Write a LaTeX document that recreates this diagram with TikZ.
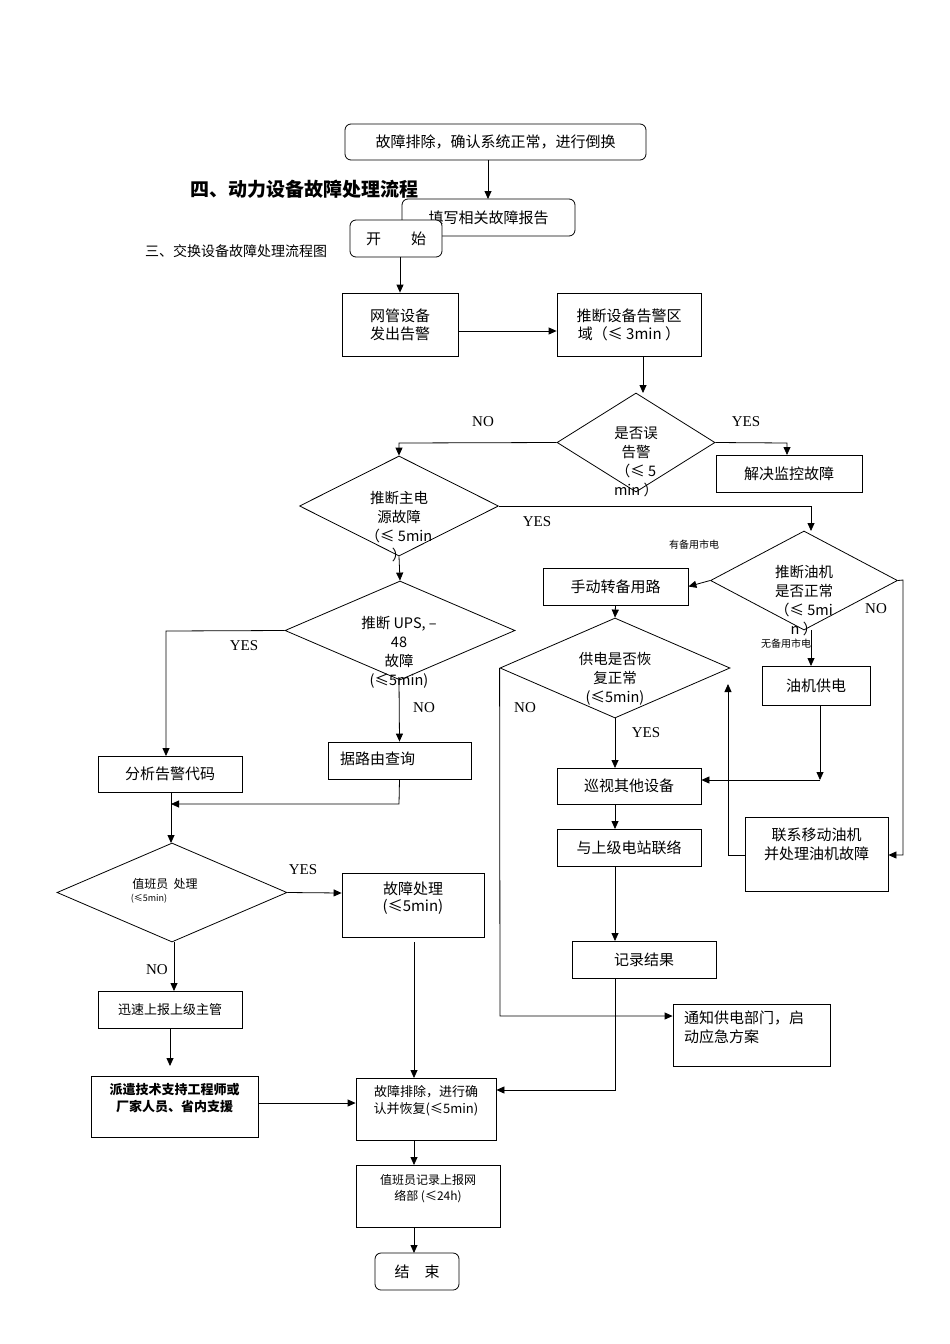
\documentclass[tikz,border=0pt]{standalone}
\usepackage{fontspec}
\setmainfont{Liberation Serif}
\newfontfamily\cjk{Noto Sans CJK SC}
\usetikzlibrary{shapes.geometric,arrows.meta}
\begin{document}
\begin{tikzpicture}[x=1pt,y=-1pt,
  box/.style={draw,thick,minimum width=#1,inner sep=0pt,align=center,font=\cjk\fontsize{15}{18}\selectfont},
  rbox/.style={box=#1,rounded corners=6pt},
  dia/.style={draw,thick,diamond,inner sep=0pt},
  dtxt/.style={align=center,font=\cjk\fontsize{14.5}{19}\selectfont,inner sep=0pt},
  lab/.style={font=\fontsize{15}{18}\selectfont,inner sep=0pt},
  small/.style={font=\cjk\fontsize{10}{12}\selectfont,inner sep=0pt},
  ar/.style={thick,-{Triangle[length=8pt,width=7pt]}},
  ln/.style={thick}]
\fill[white] (0,0) rectangle (950,1344);
\useasboundingbox (0,0) rectangle (950,1344);
% top
\node[rbox=301pt,minimum height=36pt] (t1) at (495.5,142) {故障排除，确认系统正常，进行倒换};
\node[rbox=173pt,minimum height=37pt,fill=white] (t2) at (488.5,217.5) {填写相关故障报告};
\draw[ar] (t1.south -| 488,0) -- (488,199);
\node[font=\cjk\bfseries\fontsize{19}{22}\selectfont,anchor=west,inner sep=0pt] (title) at (190,189) {四、动力设备故障处理流程};
\node[font=\cjk\fontsize{14}{16}\selectfont,anchor=west,inner sep=0pt] (sub) at (145,251) {三、交换设备故障处理流程图};
\node[rbox=92pt,minimum height=37pt,fill=white] (start) at (396,238.5) {开\hspace{2em}始};
\node[box=116pt,minimum height=63pt] (nm) at (400,324.5) {网管设备\\发出告警};
\draw[ar] (400,257) -- (nm.north);
\node[box=144pt,minimum height=63pt] (area) at (629,324.5) {推断设备告警区\\域（≤ 3min ）};
\draw[ar] (nm.east |- 0,331) -- (area.west |- 0,331);
% diamond 1
\node[dia,minimum width=158pt,minimum height=99pt] (d1) at (636,442.5) {};
\node[dtxt] (d1t) at (636,462) {是否误\\告警\\（≤ 5\\min ）};
\draw[ar] (643,356) -- (643,393);
\node[box=146pt,minimum height=37pt] (mon) at (789,473.5) {解决监控故障};
\draw[ar] (d1.east) -- (787,443) -- (787,455);
\node[lab] (yes1) at (746,422) {YES};
\node[lab] (no1) at (483,422) {NO};
% diamond 2
\node[dia,minimum width=199pt,minimum height=100pt] (d2) at (399,506) {};
\node[dtxt] (d2t) at (399,527) {推断主电\\源故障\\（≤ 5min\\）};
\draw[ar] (d1.west) -- (399,443) -- (d2.north);
\node[lab] (yes2) at (537,522) {YES};
% diamond oil
\node[dia,minimum width=187pt,minimum height=99pt] (d3) at (804,580.5) {};
\node[dtxt] (d3t) at (804,601) {推断油机\\是否正常\\（≤ 5mi\\n ）};
\draw[ar] (d2.east) -- (811,506) -- (811,531);
\node[small] (bk1) at (694,545) {有备用市电};
\node[small] (bk2) at (786,644) {无备用市电};
\node[lab] (no3) at (876,609) {NO};
\node[box=145pt,minimum height=37pt] (man) at (615.5,586.5) {手动转备用路};
\draw[ar] (d3.west) -- (man.east);
\node[box=108pt,minimum height=39pt] (oil) at (816,685.5) {油机供电};
\draw[ar] (811,630) -- (811,666);
\node[box=143pt,minimum height=74pt] (mob) at (816.5,854) {};
\node[dtxt,font=\cjk\fontsize{15}{19}\selectfont] (mobt) at (816.5,844) {联系移动油机\\并处理油机故障};
\draw[ar] (d3.east) -- (903,580) -- (903,855) -- (mob.east |- 0,855);
% diamond power restore
\node[dia,minimum width=230pt,minimum height=100pt] (d4) at (615,668) {};
\node[dtxt] (d4t) at (615,679) {供电是否恢\\复正常\\(≤5min)};
\draw[ar] (man.south) -- (d4.north);
\node[box=144pt,minimum height=36pt] (pat) at (629,786) {巡视其他设备};
\draw[ar] (d4.south) -- (615,768);
\node[lab] (yes4) at (646,733) {YES};
\node[lab] (no4) at (525,708) {NO};
\draw[ar] (oil.south -| 820,0) -- (820,780);
\draw[ar] (820,780) -- (pat.east |- 0,780);
\draw[ar] (mob.west |- 0,855) -- (728,855) -- (728,684);
\node[box=144pt,minimum height=37pt] (up) at (629,847.5) {与上级电站联络};
\draw[ar] (615,804) -- (615,829);
\node[box=144pt,minimum height=37pt] (rec) at (644,959.5) {记录结果};
\draw[ar] (615,866) -- (615,941);
\node[box=157pt,minimum height=62pt] (notice) at (751.5,1035) {};
\node[dtxt,font=\cjk\fontsize{15}{19}\selectfont,align=left,anchor=north west] (noticet) at (684,1011) {通知供电部门，启\\动应急方案};
\draw[ar] (d4.west) -- (500,1016) -- (notice.west |- 0,1016);
% UPS diamond
\node[dia,minimum width=230pt,minimum height=99pt] (d5) at (400,630.5) {};
\node[dtxt] (d5t) at (399,652) {推断 UPS, –\\48\\故障\\(≤5min)};
\draw[ar] (d2.south) -- (d5.north);
\node[box=144pt,minimum height=36pt] (code) at (170,774) {分析告警代码};
\draw[ar] (d5.west) -- (166,631) -- (166,756);
\node[lab] (yes5) at (244,646) {YES};
\node[box=143pt,minimum height=37pt] (route) at (399.5,760.5) {};
\node[dtxt,font=\cjk\fontsize{15}{18}\selectfont,anchor=west] (routet) at (340,759) {据路由查询};
\draw[ar] (399,680) -- (route.north);
\node[lab] (no5) at (424,708) {NO};
\draw[ar] (route.south) -- (399,804) -- (171,804);
% duty diamond
\node[dia,minimum width=230pt,minimum height=99pt] (d6) at (172,892.5) {};
\node[dtxt,font=\cjk\fontsize{12}{14}\selectfont] (d6t) at (165,884) {值班员\ \ 处理};
\node[dtxt,font=\cjk\fontsize{9}{11}\selectfont] (d6s) at (149,899) {(≤5min)};
\draw[ar] (171,792) -- (171,843);
\node[box=142pt,minimum height=64pt] (fix) at (413,905) {};
\node[dtxt,font=\cjk\fontsize{15}{17}\selectfont] (fixt) at (413,898) {故障处理\\(≤5min)};
\draw[ar] (d6.east) -- (fix.west |- 0,893);
\node[lab] (yes6) at (303,870) {YES};
\node[box=144pt,minimum height=37pt,font=\cjk\fontsize{13}{16}\selectfont] (rep) at (170,1009.5) {迅速上报上级主管};
\draw[ar] (174,942) -- (174,991);
\node[lab] (no6) at (157,970) {NO};
\node[box=167pt,minimum height=61pt] (disp) at (174.5,1106.5) {};
\node[dtxt,font=\cjk\bfseries\fontsize{13}{17}\selectfont] (dispt) at (174.5,1098) {派遣技术支持工程师或\\厂家人员、省内支援};
\draw[ar] (170,1028) -- (170,1066);
\node[box=140pt,minimum height=62pt] (rest) at (426,1109) {};
\node[dtxt,font=\cjk\fontsize{13}{17}\selectfont] (restt) at (426,1101) {故障排除，进行确\\认并恢复(≤5min)};
\draw[ar] (disp.east |- 0,1103) -- (rest.west |- 0,1103);
\draw[ar] (414,942) -- (414,1078);
\draw[ar] (rec.south -| 615,0) -- (615,1090) -- (rest.east |- 0,1090);
\node[box=144pt,minimum height=62pt] (log) at (428,1196) {};
\node[dtxt,font=\cjk\fontsize{12}{16}\selectfont] (logt) at (428,1189) {值班员记录上报网\\络部 (≤24h)};
\draw[ar] (414,1140) -- (414,1165);
\node[rbox=84pt,minimum height=37pt] (end) at (417,1271.5) {结\hspace{1em}束};
\draw[ar] (414,1227) -- (414,1253);
\end{tikzpicture}
\end{document}
